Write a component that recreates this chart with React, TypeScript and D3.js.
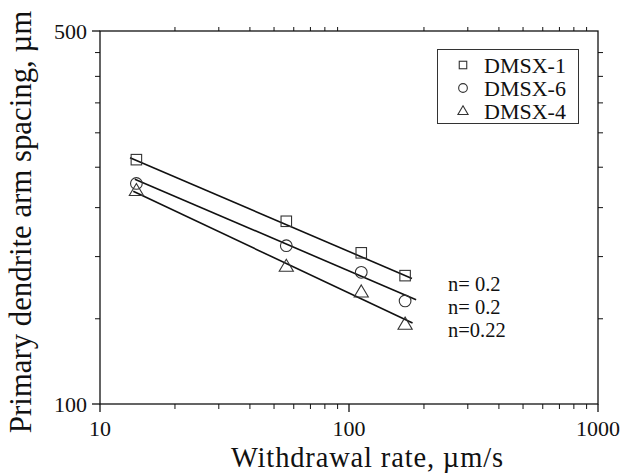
import React from "react";
import * as d3 from "d3";

// Withdrawal rate (µm/s) at which each alloy was grown
const rates = [14, 56, 112, 168];
// Primary dendrite arm spacing (µm)
const dmsx1 = [287, 220, 192, 174];
const dmsx6 = [259, 198, 176.5, 156];
const dmsx4 = [251, 181, 162, 141];
const seriesNames = ["DMSX-1", "DMSX-6", "DMSX-4"];
// Power-law fits: spacing = A * rate^(-n)
const fitA = [485, 446, 444.5];
const fitN = [0.2, 0.2, 0.22];
const fitFrom = [13.2, 13.8, 13.6];
const fitTo = [179, 186, 180];
const nLabels = ["n= 0.2", "n= 0.2", "n=0.22"];
const xMajorTicks = [10, 100, 1000];
const yMajorTicks = [100, 500];

const W = 622;
const H = 473;
const L = 100, R = 598, T = 31, B = 404;
const FONT = "Liberation Serif, Times New Roman, Times, serif";
const INK = "#111";
const MARK = "#333";

const x = d3.scaleLog().domain([10, 1000]).range([L, R]);
const y = d3.scaleLog().domain([100, 500]).range([B, T]);

const xMinor: number[] = [];
[10, 100].forEach((d) => {
  for (let k = 2; k <= 9; k++) xMinor.push(k * d);
});
// minor ticks split the single 100–500 interval into equal linear steps
const yMinor = d3.range(1, 9).map((i) => 100 + (400 / 9) * i);

type Shape = "square" | "circle" | "triangle";
const shapes: Shape[] = ["square", "circle", "triangle"];
const values = [dmsx1, dmsx6, dmsx4];

function Marker({ shape, cx, cy, s }: { shape: Shape; cx: number; cy: number; s: number }) {
  const common = { fill: "none", stroke: MARK, strokeWidth: 1.1 };
  if (shape === "square")
    return <rect x={cx - s / 2} y={cy - s / 2} width={s} height={s} {...common} />;
  if (shape === "circle") return <circle cx={cx} cy={cy} r={s / 2 + 0.6} {...common} />;
  const w = s * 1.35;
  const h = s * 1.15;
  const path = d3.path();
  path.moveTo(cx, cy - h * 0.6);
  path.lineTo(cx + w / 2, cy + h * 0.4);
  path.lineTo(cx - w / 2, cy + h * 0.4);
  path.closePath();
  return <path d={path.toString()} {...common} />;
}

const txt = { fontFamily: FONT, fill: INK } as const;

export default function App() {
  return (
    <svg
      width={W}
      height={H}
      style={{ position: "absolute", left: 0, top: 0, background: "#fff", fontFamily: FONT }}
    >
      <rect width={W} height={H} fill="#fff" />

      {/* frame */}
      <rect x={L} y={T} width={R - L} height={B - T} fill="none" stroke={INK} strokeWidth={1.3} />

      {/* x axis ticks */}
      {xMajorTicks.map((v) => (
        <line key={"xm" + v} x1={x(v)} x2={x(v)} y1={B} y2={B + 8} stroke={INK} strokeWidth={1.3} />
      ))}
      {xMinor.map((v) => (
        <g key={"xn" + v}>
          <line x1={x(v)} x2={x(v)} y1={B} y2={B + 5} stroke={INK} strokeWidth={1} />
          <line x1={x(v)} x2={x(v)} y1={T} y2={T - 4} stroke={INK} strokeWidth={1} />
        </g>
      ))}
      {xMajorTicks.map((v) => (
        <text key={"xl" + v} x={x(v)} y={436} textAnchor="middle" fontSize={22} style={txt}>
          {v}
        </text>
      ))}

      {/* y axis ticks */}
      {yMajorTicks.map((v) => (
        <line key={"ym" + v} x1={L - 8} x2={L} y1={y(v)} y2={y(v)} stroke={INK} strokeWidth={1.3} />
      ))}
      {yMinor.map((v) => (
        <g key={"yn" + v}>
          <line x1={L - 5} x2={L} y1={y(v)} y2={y(v)} stroke={INK} strokeWidth={1} />
          <line x1={R} x2={R + 5} y1={y(v)} y2={y(v)} stroke={INK} strokeWidth={1} />
        </g>
      ))}
      {yMajorTicks.map((v) => (
        <text key={"yl" + v} x={87} y={y(v) + 8} textAnchor="end" fontSize={22} style={txt}>
          {v}
        </text>
      ))}

      {/* axis titles */}
      <text
        x={367}
        y={466.5}
        textAnchor="middle"
        fontSize={28.5}
        textLength={272}
        lengthAdjust="spacing"
        style={txt}
      >
        Withdrawal rate, µm/s
      </text>
      <text
        transform={`translate(31,222) rotate(-90)`}
        textAnchor="middle"
        fontSize={30.8}
        style={txt}
      >
        Primary dendrite arm spacing, µm
      </text>

      {/* fitted power-law lines */}
      {fitA.map((a, i) => {
        const xs = [fitFrom[i], fitTo[i]];
        const pts = xs.map((v) => y(a * Math.pow(v, -fitN[i])));
        const path = d3
          .line<number>()
          .x((_, j) => x(xs[j]))
          .y((d) => d)(pts);
        return <path key={"fit" + i} d={path ?? ""} fill="none" stroke={INK} strokeWidth={1.6} />;
      })}

      {/* measured points */}
      {values.map((vals, i) =>
        vals.map((v, j) => (
          <Marker key={`p${i}-${j}`} shape={shapes[i]} cx={x(rates[j])} cy={y(v)} s={10.5} />
        ))
      )}

      {/* exponent labels */}
      {nLabels.map((t, i) => (
        <text key={"n" + i} x={448} y={291 + i * 23} fontSize={20.5} style={txt}>
          {t}
        </text>
      ))}

      {/* legend */}
      <rect x={437.5} y={49.5} width={141} height={74} fill="#fff" stroke={MARK} strokeWidth={1} />
      {seriesNames.map((name, i) => (
        <g key={"lg" + i}>
          <Marker shape={shapes[i]} cx={463} cy={65 + i * 23} s={7.5} />
          <text x={484} y={72.5 + i * 23} fontSize={22} style={txt}>
            {name}
          </text>
        </g>
      ))}
    </svg>
  );
}
